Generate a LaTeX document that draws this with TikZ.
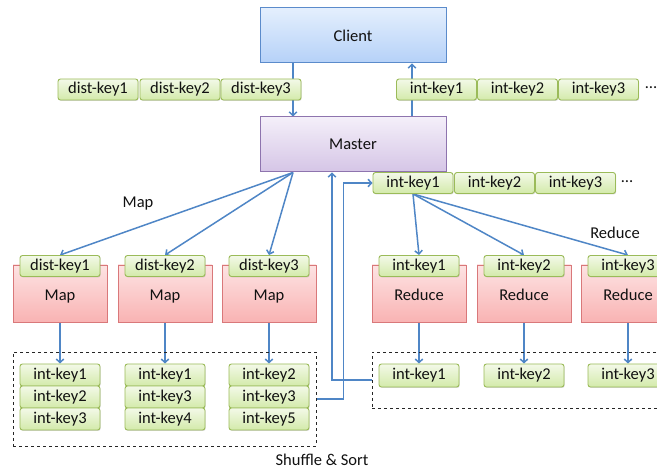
\documentclass[tikz,border=0pt]{standalone}
\usepackage{fontspec}
\setmainfont{Carlito}
\usetikzlibrary{shapes,arrows,arrows.meta,calc,backgrounds,shadows}

\definecolor{flowblue}{HTML}{4F86C6}
\definecolor{keyline}{HTML}{9BBB59}
\definecolor{keytop}{HTML}{F3F9E8}
\definecolor{keybot}{HTML}{D3EAAA}
\definecolor{redline}{HTML}{D9787A}
\definecolor{redtop}{HTML}{FDE3E3}
\definecolor{redbot}{HTML}{F9B3B3}
\definecolor{clientline}{HTML}{5B8BCB}
\definecolor{clienttop}{HTML}{E4EFFD}
\definecolor{clientbot}{HTML}{B5D1F8}
\definecolor{masterline}{HTML}{8E74AE}
\definecolor{mastertop}{HTML}{F4EFF9}
\definecolor{masterbot}{HTML}{D5C5E6}
\definecolor{labeltext}{HTML}{111111}

\tikzset{
	txt/.style={font=\fontsize{16.5}{19}\selectfont, text=labeltext, inner sep=0pt},
	keybox/.style={txt, draw=keyline, line width=0.9pt, rounded corners=2.5pt,
		top color=keytop, bottom color=keybot, minimum width=80pt, minimum height=21pt,
		drop shadow={shadow xshift=0.7pt, shadow yshift=-0.9pt, opacity=0.3}},
	stackbox/.style={keybox, minimum height=22pt},
	workbox/.style={txt, draw=redline, line width=0.9pt, top color=redtop, bottom color=redbot,
		minimum width=94pt, minimum height=57pt, text depth=0pt,
		drop shadow={shadow xshift=0.7pt, shadow yshift=-0.9pt, opacity=0.25}},
	bigbox/.style={txt, line width=1pt, minimum width=186pt, minimum height=55pt},
	groupbox/.style={draw=black!85, line width=0.9pt, dashed, inner sep=0pt},
	flow/.style={draw=flowblue, line width=1.5pt, -{Straight Barb[length=3.5pt,width=7.5pt]}}
}

\begin{document}
\begin{tikzpicture}[x=1pt,y=-1pt]
	\useasboundingbox (0,0) rectangle (657,470);
	\clip (0,0) rectangle (657,470);

	% client and master
	\node[bigbox, draw=clientline, top color=clienttop, bottom color=clientbot] (client) at (353,35.5) {Client};
	\node[bigbox, draw=masterline, top color=mastertop, bottom color=masterbot] (master) at (353,144.5) {Master};

	% keys between client and master
	\foreach \i/\x in {1/98,2/180,3/261}
		\node[keybox] (dk\i) at (\x,89.5) {dist-key\i};
	\foreach \i/\x in {1/436.5,2/517.5,3/598.5}
		\node[keybox] (ik\i) at (\x,89.5) {int-key\i};
	\node[txt] (ikdots) at (651,88) {…};

	% sorted keys handed to the reducers
	\foreach \i/\x in {1/413,2/494.5,3/575.5}
		\node[keybox] (sk\i) at (\x,183) {int-key\i};
	\node[txt] (skdots) at (627,182) {…};

	% map side
	\node[groupbox, minimum width=303pt, minimum height=94pt] (shuf) at (164.5,399) {};
	\foreach \i/\x in {1/60,2/165,3/269} {
		\node[workbox] (map\i) at (\x,293.5) {\raisebox{-3pt}{Map}};
		\node[keybox] (mapin\i) at (\x,266) {dist-key\i};
	}
	\foreach \i/\x/\ka/\kb/\kc in {1/60/1/2/3,2/165/1/3/4,3/269/2/3/5} {
		\node[stackbox] (mapout\i1) at (\x,375) {int-key\ka};
		\node[stackbox] (mapout\i2) at (\x,397) {int-key\kb};
		\node[stackbox] (mapout\i3) at (\x,419) {int-key\kc};
	}

	% reduce side
	\node[groupbox, minimum width=330pt, minimum height=56pt] (redbox) at (537,380) {};
	\foreach \i/\x in {1/419,2/524,3/628} {
		\node[workbox] (red\i) at (\x,293.5) {\raisebox{-3pt}{Reduce}};
		\node[keybox] (redin\i) at (\x,266) {int-key\i};
		\node[keybox, minimum height=23pt] (redout\i) at (\x,375.5) {int-key\i};
	}

	% labels
	\node[txt] (maplabel) at (138,204) {Map};
	\node[txt] (redlabel) at (615,233) {Reduce};
	\node[txt] (shuflabel) at (322,460) {Shuffle \& Sort};

	% connectors
	\begin{scope}[on background layer]
		\draw[flow] ([xshift=-60pt]client.south) -- ([xshift=-60pt]master.north);
		\draw[flow] ([xshift=59pt]master.north) -- ([xshift=59pt]client.south);
		\foreach \i in {1,2,3} {
			\draw[flow] ([xshift=-60pt]master.south) -- (mapin\i.north);
			\draw[flow] (map\i.south) -- (mapout\i1.north);
			\draw[flow] (sk1.south) -- (redin\i.north);
			\draw[flow] (red\i.south) -- (redout\i.north);
		}
		\draw[flow] (shuf.east) -- ++(27,0) |- (sk1.west);
		\draw[flow] (redbox.west) -| ([xshift=-21pt]master.south);
	\end{scope}
\end{tikzpicture}
\end{document}
